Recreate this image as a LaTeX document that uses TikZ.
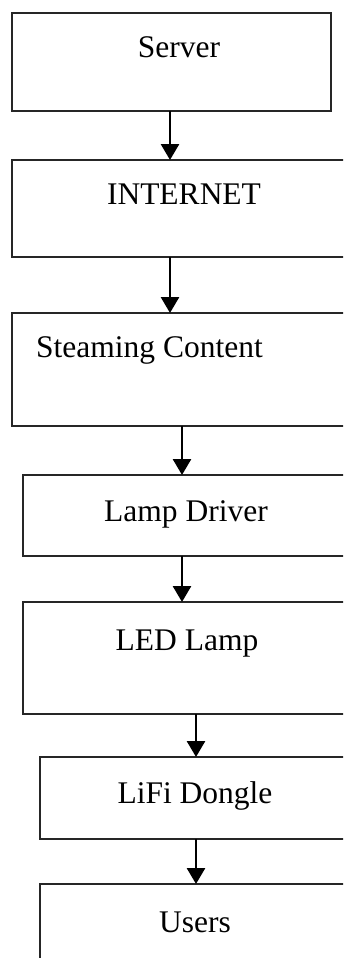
\documentclass[tikz,border=0pt]{standalone}
\usepackage{fontspec}
\setmainfont{Liberation Serif}
\usetikzlibrary{arrows.meta}
\begin{document}
\begin{tikzpicture}[x=1pt,y=-1pt,
  box/.style={draw=black!85,line width=1.8pt,rectangle,inner sep=0pt,outer sep=0pt},
  lbl/.style={anchor=base,inner sep=0pt,font=\fontsize{31.5}{36}\selectfont},
  arr/.style={line width=2.8pt,-{Triangle[width=18pt,length=16pt]}}]
\useasboundingbox (0,0) rectangle (343,958);
\clip (0,0) rectangle (343,958);
% boxes
\node[box,minimum width=319pt,minimum height=98pt] (b1) at (171.5,62) {};
\node[box,minimum width=348pt,minimum height=97pt] (b2) at (186,208.5) {};
\node[box,minimum width=348pt,minimum height=113pt] (b3) at (186,369.5) {};
\node[box,minimum width=337pt,minimum height=81pt] (b4) at (191.5,515.5) {};
\node[box,minimum width=337pt,minimum height=112pt] (b5) at (191.5,658) {};
\node[box,minimum width=320pt,minimum height=82pt] (b6) at (200,798) {};
\node[box,minimum width=320pt,minimum height=90pt] (b7) at (200,929) {};
% texts
\node[lbl] (t1) at (179,58) {Server};
\node[lbl] (t2) at (184,204) {INTERNET};
\node[lbl,anchor=base west] (t3) at (36,357) {Steaming Content};
\node[lbl] (t4) at (186,521) {Lamp Driver};
\node[lbl] (t5) at (187,650) {LED Lamp};
\node[lbl] (t6) at (195,803) {LiFi Dongle};
\node[lbl] (t7) at (195,932) {Users};
% arrow columns
\coordinate (c1) at (170,0);
\coordinate (c2) at (182,0);
\coordinate (c3) at (196,0);
\draw[arr] (b1.south -| c1) -- (b2.north -| c1);
\draw[arr] (b2.south -| c1) -- (b3.north -| c1);
\draw[arr] (b3.south -| c2) -- (b4.north -| c2);
\draw[arr] (b4.south -| c2) -- (b5.north -| c2);
\draw[arr] (b5.south -| c3) -- (b6.north -| c3);
\draw[arr] (b6.south -| c3) -- (b7.north -| c3);
\end{tikzpicture}
\end{document}
